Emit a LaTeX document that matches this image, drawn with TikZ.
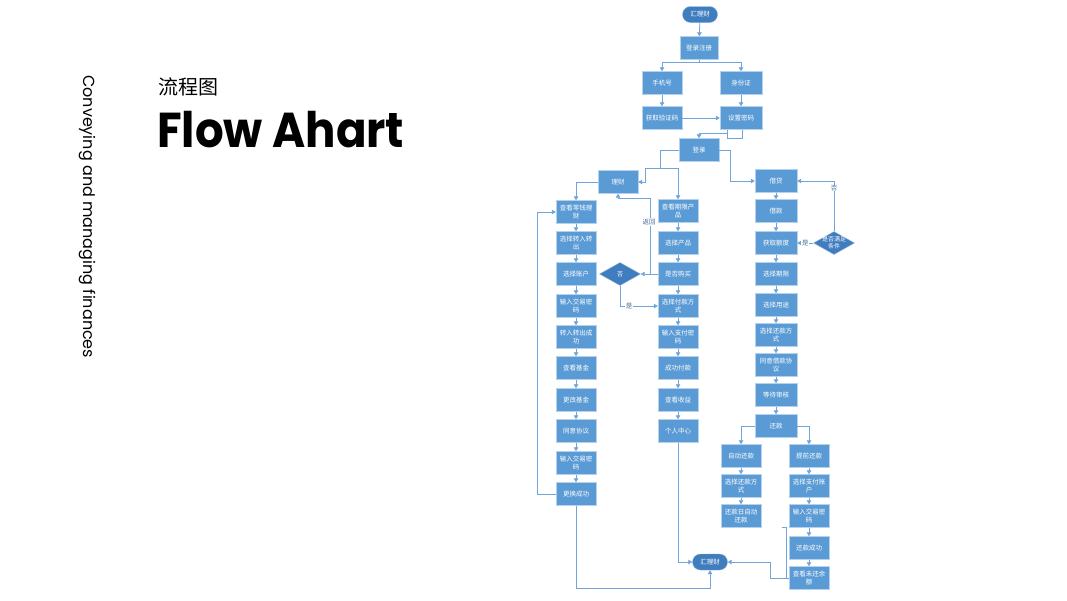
\documentclass[tikz,border=0pt]{standalone}
\usepackage{fontspec}
\setmainfont{Poppins}
\newfontfamily\cjk{Noto Sans CJK SC}
\usetikzlibrary{shapes.geometric,shapes.misc,arrows.meta}
\definecolor{boxblue}{HTML}{5B9BD5}
\definecolor{darkblue}{HTML}{3F7DBE}
\definecolor{lineblue}{HTML}{6FA5DA}
\definecolor{lblcol}{HTML}{4A6E96}
\begin{document}
\begin{tikzpicture}[x=1pt,y=-1pt,
  box/.style={rectangle,fill=boxblue,draw=white!55!boxblue,line width=0.4pt,
    minimum width=40pt,minimum height=23pt,inner sep=0pt,text=white,align=center,
    font=\cjk\fontsize{6.5}{8.5}\selectfont},
  term/.style={rounded rectangle,fill=darkblue,draw=white!40!darkblue,line width=0.4pt,
    minimum width=35pt,minimum height=16pt,inner sep=0pt,text=white,
    font=\cjk\fontsize{6.5}{8}\selectfont},
  diam/.style={diamond,fill=darkblue,draw=white!40!darkblue,line width=0.4pt,
    minimum width=41pt,minimum height=23pt,inner sep=0pt,aspect=1.8},
  dtext/.style={text=white,align=center,inner sep=0pt,font=\cjk\fontsize{6}{7}\selectfont},
  arr/.style={draw=lineblue,line width=0.8pt,-{Triangle[length=4pt,width=4.5pt]}},
  ln/.style={draw=lineblue,line width=0.8pt},
  lbl/.style={fill=white,inner sep=0.6pt,text=lblcol,font=\cjk\fontsize{6.5}{7}\selectfont}]
\useasboundingbox[fill=white] (0,0) rectangle (1067,600);

% ---- left titles ----
\node[rotate=-90,anchor=west,inner sep=0pt,font=\fontsize{16}{18}\selectfont] (side) at (87,75) {Conveying and managing finances};
\node[anchor=west,inner sep=0pt,font=\cjk\fontsize{20}{22}\selectfont] (zh) at (158,87) {流程图};
\node[anchor=west,inner sep=0pt,xscale=0.92,font=\bfseries\fontsize{49}{56}\selectfont] (title) at (157,130) {Flow Ahart};

% ---- top part ----
\node[term] (h1) at (700,14.5) {汇理财};
\node[box,minimum width=38pt] (dlzc) at (699,48) {登录注册};
\node[box] (sjh) at (662,83) {手机号};
\node[box,minimum width=42pt] (sfz) at (741,83) {身份证};
\node[box] (hqyzm) at (662,118) {获取验证码};
\node[box,minimum width=42pt] (szmm) at (741,118) {设置密码};
\node[box] (dl) at (699,150) {登录};
\node[box] (lc) at (618,182) {理财};
\node[box,minimum width=42pt] (jd) at (776,181) {借贷};

% ---- left column ----
\node[box] (l1) at (576,212) {查看零钱理\\财};
\node[box] (l2) at (576,243) {选择转入转\\出};
\node[box] (l3) at (576,274) {选择账户};
\node[box] (l4) at (576,306) {输入交易密\\码};
\node[box] (l5) at (576,337) {转入转出成\\功};
\node[box] (l6) at (576,368) {查看基金};
\node[box] (l7) at (576,400) {更改基金};
\node[box] (l8) at (576,431) {同意协议};
\node[box] (l9) at (576,463) {输入交易密\\码};
\node[box] (l10) at (576,494) {更换成功};

% ---- middle column ----
\node[box] (m1) at (678,211) {查看期限产\\品};
\node[box] (m2) at (678,243) {选择产品};
\node[box] (m3) at (678,274) {是否购买};
\node[box] (m4) at (678,306) {选择付款方\\式};
\node[box] (m5) at (678,337) {输入支付密\\码};
\node[box] (m6) at (678,368) {成功付款};
\node[box] (m7) at (678,400) {查看收益};
\node[box] (m8) at (678,431) {个人中心};
\node[diam] (fou) at (620,274) {};
\node[dtext] at (fou) {否};

% ---- right column ----
\node[box,minimum width=42pt] (r1) at (776,211) {借款};
\node[box,minimum width=42pt] (r2) at (776,243) {获取额度};
\node[box,minimum width=42pt] (r3) at (776,274) {选择期限};
\node[box,minimum width=42pt] (r4) at (776,305) {选择用途};
\node[box,minimum width=42pt] (r5) at (776,335) {选择还款方\\式};
\node[box,minimum width=42pt] (r6) at (776,365) {同意借款协\\议};
\node[box,minimum width=42pt] (r7) at (776,395) {等待审核};
\node[box,minimum width=42pt] (r8) at (776,426) {还款};
\node[diam] (tj) at (834,243) {};
\node[dtext] at (tj) {是否满足\\条件};

% ---- repayment ----
\node[box] (a1) at (741,456) {自动还款};
\node[box] (a2) at (741,486) {选择还款方\\式};
\node[box] (a3) at (741,516) {还款日自动\\还款};
\node[box] (b1) at (809,456) {提前还款};
\node[box] (b2) at (809,486) {选择支付账\\户};
\node[box] (b3) at (809,516) {输入交易密\\码};
\node[box] (b4) at (809,548) {还款成功};
\node[box] (b5) at (809,578) {查看未还余\\额};
\node[term] (h2) at (710,562) {汇理财};

% ---- connectors: top ----
\draw[arr] (h1) -- (dlzc);
\draw[arr] (dlzc.south) -- ++(0,3) -| (sjh.north);
\draw[arr] (dlzc.south) -- ++(0,3) -| (sfz.north);
\draw[arr] (sjh) -- (hqyzm);
\draw[arr] (sfz) -- (szmm);
\draw[arr] (hqyzm) -- (szmm);
\coordinate (sz1) at (727,130);
\coordinate (sz2) at (742,130);
\draw[arr] (sz1) -- ++(0,3) -| (dl.north);
\draw[ln] (sz1) -- (727,138) -- (742,138) -- (sz2);
\coordinate (dlk) at (660,168);
\draw[arr] (dl.west) -- (660,150) -- (dlk) -| (m1.north);
\draw[arr] (dlk) -- (645,168) |- (lc.east);
\draw[arr] (dl.east) -- (730,150) |- (jd.west);

% ---- connectors: 理财 ----
\draw[arr] (lc.west) -| (l1.north);
\foreach \a/\b in {l1/l2,l2/l3,l3/l4,l4/l5,l5/l6,l6/l7,l7/l8,l8/l9,l9/l10}
  \draw[arr] (\a) -- (\b);
\draw[arr] (l10.west) -- (537,494) |- (l1.west);
\foreach \a/\b in {m1/m2,m2/m3,m3/m4,m4/m5,m5/m6,m6/m7,m7/m8}
  \draw[arr] (\a) -- (\b);
\draw[arr] (m3.west) -- (fou.east);
\coordinate (fh) at (650,274);
\draw[arr] (fh) -- (650,198) -| (lc.south);
\node[lbl] at (649,222) {返回};
\draw[arr] (fou.south) |- (m4.west) node[pos=0.62,lbl]{是};

% ---- connectors: 借贷 ----
\foreach \a/\b in {jd/r1,r1/r2,r2/r3,r3/r4,r4/r5,r5/r6,r6/r7,r7/r8}
  \draw[arr] (\a) -- (\b);
\draw[arr] (tj.north) |- (jd.east) node[pos=0.43,lbl]{否};
\draw[arr] (tj.west) -- (r2.east) node[midway,lbl]{是};
\draw[arr] (r8.west) -| (a1.north);
\draw[arr] (r8.east) -| (b1.north);
\foreach \a/\b in {a1/a2,a2/a3,b1/b2,b2/b3,b3/b4,b4/b5}
  \draw[arr] (\a) -- (\b);

% ---- connectors: back to 汇理财 ----
\draw[arr] (m8.south) |- (h2.west);
\draw[arr] (l10.south) -- (576,588) -| (h2.south);
\coordinate (wh) at (786,578);
\draw[arr] (b5.west) -- (770,578) |- (h2.east);
\draw[ln] (782,527) -- (786,527) -- (wh);
\end{tikzpicture}
\end{document}
